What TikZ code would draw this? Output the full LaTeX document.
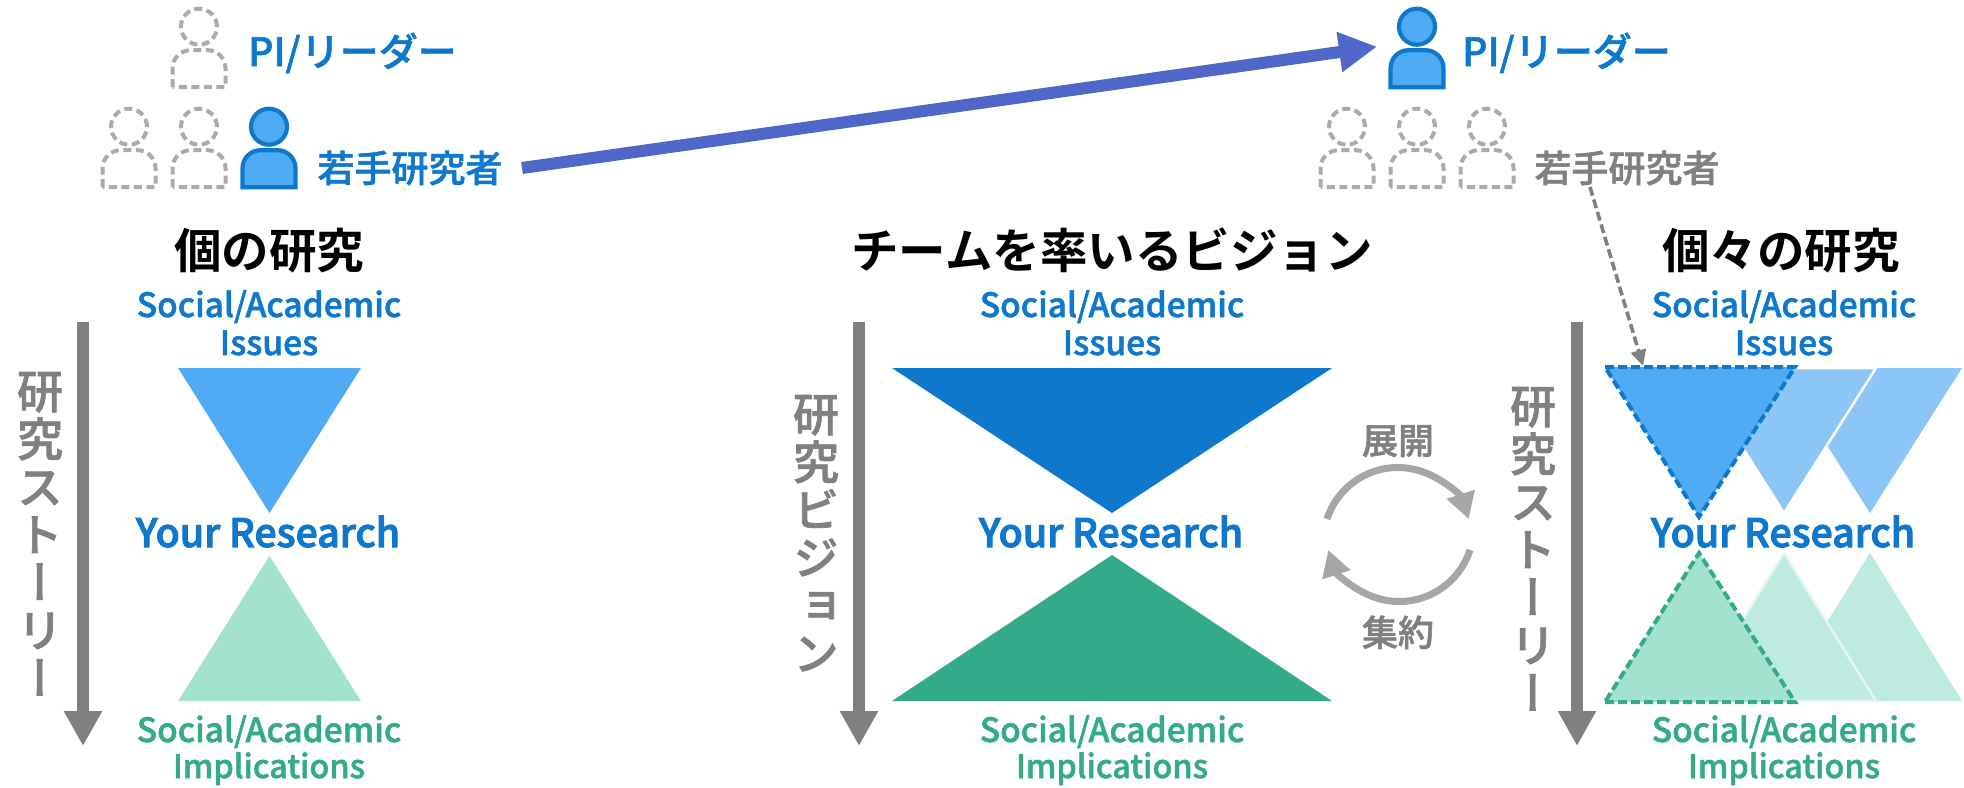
\documentclass[tikz,border=0pt]{standalone}
\usepackage{fontspec}
\usetikzlibrary{arrows.meta}
\setmainfont{Noto Sans CJK JP}
\newfontfamily\jpb{Noto Sans CJK JP Bold}
\newfontfamily\jpm[FakeBold=1.5]{Noto Sans CJK JP Medium}
\newfontfamily\jpy[FakeBold=2.5]{Noto Sans CJK JP Medium}
\newfontfamily\jpv[RawFeature=+vert,FakeBold=1.5]{Noto Sans CJK JP Medium}
\definecolor{cblue}{HTML}{0E78CC}
\definecolor{cfill}{HTML}{4FABF3}
\definecolor{clight}{HTML}{8CC6F7}
\definecolor{cgreen}{HTML}{33AB8A}
\definecolor{cmint}{HTML}{A3E2CF}
\definecolor{cmintl}{HTML}{BDEBDF}
\definecolor{cgray}{HTML}{808080}
\definecolor{cdash}{HTML}{ABABAB}
\definecolor{cindigo}{HTML}{5066C8}
\tikzset{
  x=1pt,y=-1pt,
  personbody/.pic={
    \path[pic actions] (0,0) circle[radius=18pt];
    \path[pic actions] (-26.5,60.5) -- (-26.5,41.5) arc[start angle=180,end angle=90,radius=18pt] -- (8.5,23.5) arc[start angle=90,end angle=0,radius=18pt] -- (26.5,60.5) -- cycle;
  },
  ghost/.style={draw=cdash,line width=4pt,dash pattern=on 8pt off 4.5pt,fill=none},
  solidp/.style={draw=cblue,fill=cfill,line width=4.2pt},
  lab/.style={anchor=base,inner sep=0pt,outer sep=0pt},
  label37/.style={lab,font=\jpm\fontsize{37}{37}\selectfont},
  labelpi/.style={lab,font=\jpm\fontsize{39}{39}\selectfont},
  title47/.style={lab,font=\jpb\fontsize{47.5}{47.5}\selectfont},
  soc/.style={lab,font=\jpm\fontsize{33.5}{33.5}\selectfont},
  impl/.style={lab,font=\jpm\fontsize{32.4}{32.4}\selectfont},
  yr/.style={lab,font=\jpy\fontsize{39.3}{39.3}\selectfont,text=cblue},
  vstack/.style={anchor=north,inner sep=0pt,outer sep=0pt,align=center,text=cgray,font=\jpv\fontsize{46}{47.8}\selectfont},
  storyarrow/.style={draw=cgray,line width=12pt,-{Triangle[length=35pt,width=36pt]}},
  cyclearrow/.style={draw=black!35,line width=7pt,-{Triangle[length=26pt,width=28pt]}},
  maintri/.style={fill=cfill,draw=cblue,line width=4pt,dash pattern=on 9pt off 4pt},
  maintrig/.style={fill=cmint,draw=cgreen,line width=4pt,dash pattern=on 9pt off 4pt},
}
\begin{document}
\begin{tikzpicture}
\useasboundingbox (0,0) rectangle (1964,787);
% persons, left
\pic[ghost] at (199,26.7) {personbody};
\pic[ghost] at (129,126.7) {personbody};
\pic[ghost] at (199,126.7) {personbody};
\pic[solidp] at (269,126.7) {personbody};
% persons, right
\pic[solidp] at (1417,26.7) {personbody};
\pic[ghost] at (1347,126.7) {personbody};
\pic[ghost] at (1417,126.7) {personbody};
\pic[ghost] at (1487,126.7) {personbody};
% top labels
\node[labelpi,text=cblue] (lpi) at (352.5,66) {PI/リーダー};
\node[label37,text=cblue] (lwk) at (410,182) {若手研究者};
\node[labelpi,text=cblue] (rpi) at (1566.5,66) {PI/リーダー};
\node[label37,text=cgray] (rwk) at (1627,182) {若手研究者};
% titles
\node[title47] (t1) at (269,268) {個の研究};
\node[title47] (t2) at (1112,268) {チームを率いるビジョン};
\node[title47] (t3) at (1781,268) {個々の研究};
% top-level connector
\coordinate (pitip) at (1377,46.7);
\coordinate (wkstart) at (522,168);
\draw[draw=cindigo,line width=12pt,-{Triangle[length=38pt,width=38pt]}] (wkstart) -- (pitip);
% column captions
\foreach \cx/\nm in {269/a,1112/b,1784/c}{
  \node[soc,text=cblue] (s\nm) at (\cx,317) {Social/Academic};
  \node[soc,text=cblue] (i\nm) at (\cx,355) {Issues};
  \node[yr] (y\nm) at (\cx-1,547) {Your Research};
  \node[soc,text=cgreen] (g\nm) at (\cx,742) {Social/Academic};
  \node[impl,text=cgreen] (m\nm) at (\cx,778) {Implications};
}
% left triangles
\fill[cfill] (178,368) -- (361,368) -- (269.5,513) -- cycle;
\fill[cmint] (178,701) -- (361,701) -- (269.5,556) -- cycle;
% centre triangles
\fill[cblue] (892,368) -- (1332,368) -- (1112,513) -- cycle;
\fill[cgreen] (892,701) -- (1332,701) -- (1112,555) -- cycle;
% right triangles
\fill[clight] (1778,368) -- (1962,368) -- (1870,513) -- cycle;
\path[fill=clight,draw=white,line width=2.5pt] (1692,368) -- (1876,368) -- (1784,513) -- cycle;
\fill[cmintl] (1778,701) -- (1962,701) -- (1870,553) -- cycle;
\path[fill=cmintl,draw=white!60!cmintl,line width=2.5pt] (1692,701) -- (1876,701) -- (1784,553) -- cycle;
\path[maintri] (1605,367) -- (1795,367) -- (1699,517) -- cycle;
\path[maintrig] (1605,702) -- (1795,702) -- (1699,553) -- cycle;
% story arrows and vertical text
\foreach \ax/\nm in {83/a,859/b,1577/c}{
  \coordinate (top\nm) at (\ax,322);
  \coordinate (tip\nm) at (\ax,746);
  \draw[storyarrow] (top\nm) -- (tip\nm);
}
\node[vstack] (v1) at (40,372) {研\\究\\ス\\ト\\ー\\リ\\ー};
\node[vstack] (v2) at (816,395) {研\\究\\ビ\\ジ\\ョ\\ン};
\node[vstack] (v3) at (1533,387) {研\\究\\ス\\ト\\ー\\リ\\ー};
% cycle
\node[lab,font=\jpm\fontsize{36}{36}\selectfont,text=cgray] (ex) at (1398,454) {展開};
\node[lab,font=\jpm\fontsize{36}{36}\selectfont,text=cgray] (co) at (1398,646) {集約};
\draw[cyclearrow] (1327,519) arc[start angle=162,end angle=18,radius=74.5pt];
\draw[cyclearrow] (1470,550) arc[start angle=-18,end angle=-162,radius=74.5pt];
% dashed connector
\coordinate (trihit) at (1643,366);
\coordinate (rwkfoot) at (1590,187);
\draw[draw=cgray,line width=3.6pt,dash pattern=on 9pt off 4pt,-{Triangle[length=16pt,width=15pt]}] (rwkfoot) -- (trihit);
\end{tikzpicture}
\end{document}
